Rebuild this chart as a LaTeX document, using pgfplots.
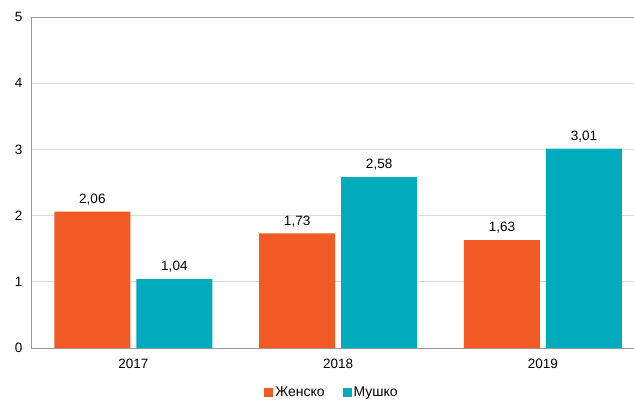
\documentclass[border=0pt]{standalone}
\usepackage{fontspec}
\setmainfont{Liberation Sans}
\usepackage{pgfplots}
\pgfplotsset{compat=1.18}
\definecolor{zensko}{HTML}{F15A24}
\definecolor{musko}{HTML}{00ABBD}
\definecolor{gridc}{HTML}{D9D9D9}
\definecolor{axisc}{HTML}{999999}
\begin{document}
\begin{tikzpicture}
\path[use as bounding box] (-31pt,-52pt) rectangle (603pt,348pt);
\begin{axis}[
    scale only axis,
    width=624.5pt, height=331pt,
    xmin=-0.5, xmax=2.55,
    ymin=0, ymax=5,
    ytick={0,1,2,3,4,5},
    xtick={0,1,2},
    xticklabels={2017,2018,2019},
    major tick length=0pt,
    ymajorgrids,
    grid style={gridc, line width=0.8pt},
    axis line style={axisc, line width=0.8pt},
    ybar, bar width=76pt,
    tick label style={font=\fontsize{13.5}{15}\selectfont},
    /pgf/number format/assume math mode=true,
    yticklabel style={xshift=-5pt},
    xticklabel style={yshift=-8pt},
    nodes near coords={\pgfmathprintnumber[use comma,fixed,precision=2,fixed zerofill]{\pgfplotspointmeta}},
    nodes near coords style={font=\fontsize{13.5}{15}\selectfont, black, yshift=3pt},
    every node near coord/.append style={/pgf/number format/assume math mode=true},
    legend style={at={(0.482,-0.133)}, anchor=center, draw=none, legend columns=2,
        font=\fontsize{14}{16}\selectfont,
        /tikz/every even column/.append style={column sep=16pt}},
    legend image code/.code={\fill[#1, draw=none] (0pt,-4.5pt) rectangle (9pt,4.5pt);},
]
\addplot[fill=zensko, draw=none, bar shift=-41pt] coordinates {(0,2.06) (1,1.73) (2,1.63)};
\addplot[fill=musko, draw=none, bar shift=41pt] coordinates {(0,1.04) (1,2.58) (2,3.01)};
\legend{Женско, Мушко}
\end{axis}
\end{tikzpicture}
\end{document}
